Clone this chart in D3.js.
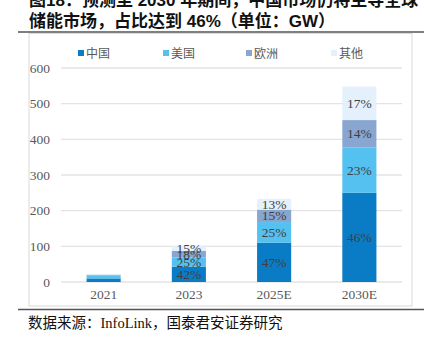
<!DOCTYPE html>
<html><head><meta charset="utf-8">
<script src="https://cdn.jsdelivr.net/npm/d3@7"></script>
<style>
body{margin:0;background:#fff;}
svg{display:block;}
</style></head><body>
<svg id="c" width="431" height="343"></svg>
<script>
const categories = ["2021","2023","2025E","2030E"];
const seriesNames = ["中国","美国","欧洲","其他"];
const china  = [10, 43, 110, 250];
const usa    = [8, 25.5, 58, 127];
const europe = [2.5, 18.5, 35, 77];
const others = [1.5, 15, 30, 94];
const pctLabels = [
  [null,null,null,null],
  ["42%","25%","18%","15%"],
  ["47%","25%","15%","13%"],
  ["46%","23%","14%","17%"]
];
const yTicks = [0,100,200,300,400,500,600];
const colors = ["#0a7cc5","#55c1f0","#88a6d0","#e4f1fd"];

const svg = d3.select("#c");
const serif = "'Liberation Serif','Times New Roman',serif";
const cjk = "'Noto Sans CJK SC',sans-serif";

// title
svg.append("text").attr("x",29).attr("y",6)
  .attr("font-family","'Liberation Sans',"+cjk).attr("font-weight","bold").attr("font-size",17).attr("fill","#111")
  .text("图18：预测至 2030 年期间，中国市场仍将主导全球");
svg.append("text").attr("x",29).attr("y",27)
  .attr("font-family","'Liberation Sans',"+cjk).attr("font-weight","bold").attr("font-size",17).attr("fill","#111")
  .text("储能市场，占比达到 46%（单位：GW）");
svg.append("line").attr("x1",18).attr("x2",424).attr("y1",32).attr("y2",32).attr("stroke","#555").attr("stroke-width",1.5);

// chart box
svg.append("rect").attr("x",29).attr("y",33.5).attr("width",383).attr("height",272.5)
  .attr("fill","none").attr("stroke","#d9d9d9").attr("stroke-width",1);

const x = d3.scaleBand().domain(categories).range([61,402]).paddingInner(0.6).paddingOuter(0.3);
const y = d3.scaleLinear().domain([0,600]).range([282,68]);

// grid
svg.append("g").selectAll("line").data(yTicks).join("line")
  .attr("x1",61).attr("x2",402).attr("y1",d=>y(d)).attr("y2",d=>y(d))
  .attr("stroke","#e3e3e3").attr("stroke-width",1.3);

// y axis labels
const yAxis = d3.axisLeft(y).tickValues(yTicks).tickSize(0).tickPadding(0);
const yg = svg.append("g").attr("transform","translate(50,0)").call(yAxis);
yg.select(".domain").remove();
yg.selectAll("text").attr("font-family",serif).attr("font-size",13.5).attr("fill","#595959");

// x axis labels
const xAxis = d3.axisBottom(x).tickSize(0).tickPadding(0);
const xg = svg.append("g").attr("transform","translate(0,289)").call(xAxis);
xg.select(".domain").remove();
xg.selectAll("text").attr("font-family",serif).attr("font-size",13.5).attr("fill","#595959");

// stacks
const table = categories.map((c,i)=>({cat:c, s0:china[i], s1:usa[i], s2:europe[i], s3:others[i], idx:i}));
const stack = d3.stack().keys(["s0","s1","s2","s3"])(table);
stack.forEach((layer,k)=>{
  const g = svg.append("g");
  g.selectAll("rect").data(layer).join("rect")
    .attr("x",d=>x(d.data.cat)).attr("width",x.bandwidth())
    .attr("y",d=>y(d[1])).attr("height",d=>y(d[0])-y(d[1]))
    .attr("fill",colors[k]);
  g.selectAll("text").data(layer.filter(d=>pctLabels[d.data.idx][k])).join("text")
    .attr("x",d=>x(d.data.cat)+x.bandwidth()/2)
    .attr("y",d=>(y(d[0])+y(d[1]))/2+4.5)
    .attr("text-anchor","middle").attr("font-family",serif).attr("font-size",13.5)
    .attr("fill", "#404040")
    .text(d=>pctLabels[d.data.idx][k]);
});

// legend
const legX = [78,163,246,331];
const lg = svg.append("g");
seriesNames.forEach((n,i)=>{
  lg.append("rect").attr("x",legX[i]).attr("y",50).attr("width",6).attr("height",6).attr("fill",colors[i]);
  lg.append("text").attr("x",legX[i]+8).attr("y",57.5).attr("font-family",cjk).attr("font-size",12).attr("fill","#595959").text(n);
});

// footer
svg.append("line").attr("x1",18).attr("x2",424).attr("y1",309.5).attr("y2",309.5).attr("stroke","#555").attr("stroke-width",1.5);
svg.append("text").attr("x",28).attr("y",328).attr("font-family",serif+","+cjk).attr("font-size",14.5).attr("fill","#111")
  .text("数据来源：InfoLink，国泰君安证券研究");
</script>
</body></html>
